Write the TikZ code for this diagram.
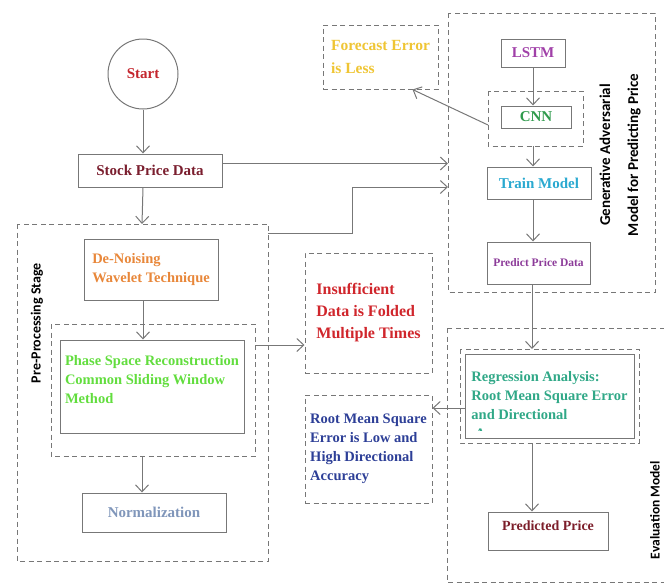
\documentclass[tikz,border=0pt]{standalone}
\usepackage{fontspec}
\setmainfont{Liberation Serif}
\setsansfont{Carlito}
\newfontfamily\boxfont{Liberation Serif}
\usetikzlibrary{positioning,arrows.meta,calc}

\definecolor{linegray}{HTML}{777777}
\definecolor{startred}{HTML}{C4262E}
\definecolor{stockred}{HTML}{7A1E2E}
\definecolor{noiseorange}{HTML}{E8873A}
\definecolor{phasegreen}{HTML}{62DD3E}
\definecolor{normblue}{HTML}{8096BA}
\definecolor{foldred}{HTML}{D0262C}
\definecolor{rmseblue}{HTML}{2D3F97}
\definecolor{forecastyellow}{HTML}{EFC534}
\definecolor{lstmpurple}{HTML}{A040A8}
\definecolor{cnngreen}{HTML}{2F9A4C}
\definecolor{traincyan}{HTML}{2AA9D0}
\definecolor{predpurple}{HTML}{8C3B99}
\definecolor{regrteal}{HTML}{30A887}
\definecolor{pricered}{HTML}{7C1E2A}

\begin{document}
\begin{tikzpicture}[x=1pt, y=-1pt]
    % Styles
    \tikzstyle{box} = [rectangle, draw=linegray, line width=1pt, inner sep=0pt, align=left,
                       font=\fontsize{14.5}{19}\selectfont\boxfont\bfseries]
    \tikzstyle{bigbox} = [box, font=\fontsize{15}{19}\selectfont\boxfont\bfseries]
    \tikzstyle{note} = [box, dash pattern=on 5pt off 3.5pt]
    \tikzstyle{group} = [draw=linegray, line width=1pt, dash pattern=on 5pt off 3.5pt]
    \tikzstyle{arrow} = [draw=linegray, line width=1pt, -{Straight Barb[length=7pt,width=13pt]}]
    \tikzstyle{sidelabel} = [rotate=90, align=center, font=\fontsize{14}{28}\selectfont\sffamily\bfseries]

    \useasboundingbox (0,0) rectangle (664,584);
    \clip (0,0) rectangle (664,584);

    % Stage frames
    \draw[group] (17,224) rectangle (268,561);
    \draw[group] (51,324) rectangle (255,456);
    \draw[group] (448,13) rectangle (655,292);
    \draw[group] (488,91) rectangle (583,146);
    \draw[group] (447,328) rectangle (680,582);
    \draw[group] (460,349) rectangle (639,443);
    \coordinate (preproc ne) at (268,224);
    \coordinate (preproc n) at (142,224);
    \coordinate (phasegrp ne) at (255,324);
    \coordinate (phasegrp s) at (142,456);
    \coordinate (gan w) at (448,150);
    \coordinate (cnngrp w) at (488,118);
    \coordinate (cnngrp s) at (533,146);
    \coordinate (reggrp n) at (532,349);
    \coordinate (reggrp s) at (532,443);
    \coordinate (bend) at (352,187);

    % Nodes
    \node (start) [circle, draw=linegray, line width=1pt, minimum size=70pt, text=startred,
                   font=\fontsize{15}{19}\selectfont\boxfont\bfseries] at (143,74) {Start};
    \node (stock) [bigbox, minimum width=144pt, minimum height=33pt, text=stockred] at (150,170.5) {Stock Price Data};
    \node (denoise) [box, minimum width=134pt, minimum height=61pt, text=noiseorange] at (151,269.5) {De-Noising\\Wavelet Technique};
    \node (phase) [box, minimum width=184pt, minimum height=93pt, text=phasegreen, text depth=15pt] at (152,386.5)
        {Phase Space Reconstruction\\Common Sliding Window\\Method};
    \node (normal) [bigbox, minimum width=144pt, minimum height=39pt, text=normblue] at (154,512.5) {Normalization};
    \node (prelabel) [sidelabel] at (37,323) {Pre-Processing Stage};

    \node (fold) [note, minimum width=127pt, minimum height=120pt, text=foldred,
                  font=\fontsize{16}{22}\selectfont\boxfont\bfseries] at (368.5,313) {Insufficient\\Data is Folded\\Multiple Times};
    \node (rmse) [note, minimum width=127pt, minimum height=108pt, text=rmseblue] at (368.5,449)
        {Root Mean Square\\Error is Low and\\High Directional\\Accuracy};
    \node (forecast) [note, minimum width=115pt, minimum height=64pt, text=forecastyellow,
                      font=\fontsize{15.5}{23}\selectfont\boxfont\bfseries] at (380.5,57) {Forecast Error\\is Less};

    \node (lstm) [bigbox, minimum width=64pt, minimum height=28pt, text=lstmpurple] at (533,53) {LSTM};
    \node (cnn) [bigbox, minimum width=70pt, minimum height=22pt, text=cnngreen] at (536,117) {CNN};
    \node (train) [bigbox, minimum width=104pt, minimum height=32pt, text=traincyan] at (539,183) {Train Model};
    \node (predict) [box, minimum width=103pt, minimum height=42pt, text=predpurple,
                     font=\fontsize{11.5}{14}\selectfont\boxfont\bfseries] at (538.5,263) {Predict Price Data};
    \node (ganlabel) [sidelabel, font=\fontsize{15}{28}\selectfont\sffamily\bfseries] at (620,155)
        {Generative Adversarial\\Model for Predicting Price};

    \node (regr) [box, minimum width=169pt, minimum height=84pt, text=regrteal] at (549.5,396)
        {Regression Analysis:\\Root Mean Square Error\\and Directional};
    \begin{scope}
        \clip (465,354) rectangle (634,430.5);
        \node (regrcut) [anchor=north west, inner sep=0pt, text=regrteal,
                         font=\fontsize{14.5}{19}\selectfont\boxfont\bfseries] at (475,428.5) {Accuracy};
    \end{scope}
    \node (price) [bigbox, minimum width=120pt, minimum height=38pt, text=pricered, text depth=11pt,
                   font=\fontsize{14}{19}\selectfont\boxfont\bfseries] at (548,531) {Predicted Price};
    \node (evallabel) [sidelabel, font=\fontsize{13.5}{16}\selectfont\sffamily\bfseries] at (655,510) {Evaluation Model};

    % Arrows
    \draw [arrow] (start) -- (start |- stock.north);
    \draw [arrow] (start |- stock.south) -- (preproc n);
    \draw [arrow] ([yshift=7pt]stock.east) -- ([yshift=7pt]stock.east -| gan w);
    \draw [arrow] ([yshift=-9pt]preproc ne) -| (bend) -- (bend -| gan w);
    \draw [arrow] (start |- denoise.south) -- (start |- phase.north);
    \draw [arrow] ([yshift=-21pt]phasegrp ne) -- ([yshift=-21pt]phasegrp ne -| fold.west);
    \draw [arrow] (phasegrp s) -- (phasegrp s |- normal.north);
    \draw [arrow] (lstm) -- (lstm |- cnn.north);
    \draw [arrow] (cnngrp s) -- (cnngrp s |- train.north);
    \draw [arrow] (cnngrp s |- train.south) -- (cnngrp s |- predict.north);
    \draw [arrow] ([yshift=-7pt]cnngrp w) -- ([xshift=32pt]forecast.south);
    \draw [arrow] (reggrp n |- predict.south) -- (reggrp n);
    \draw [arrow] ([yshift=-12pt]regr.west) -- ([yshift=-12pt]regr.west -| rmse.east);
    \draw [arrow] (reggrp s) -- (reggrp s |- price.north);

\end{tikzpicture}
\end{document}
